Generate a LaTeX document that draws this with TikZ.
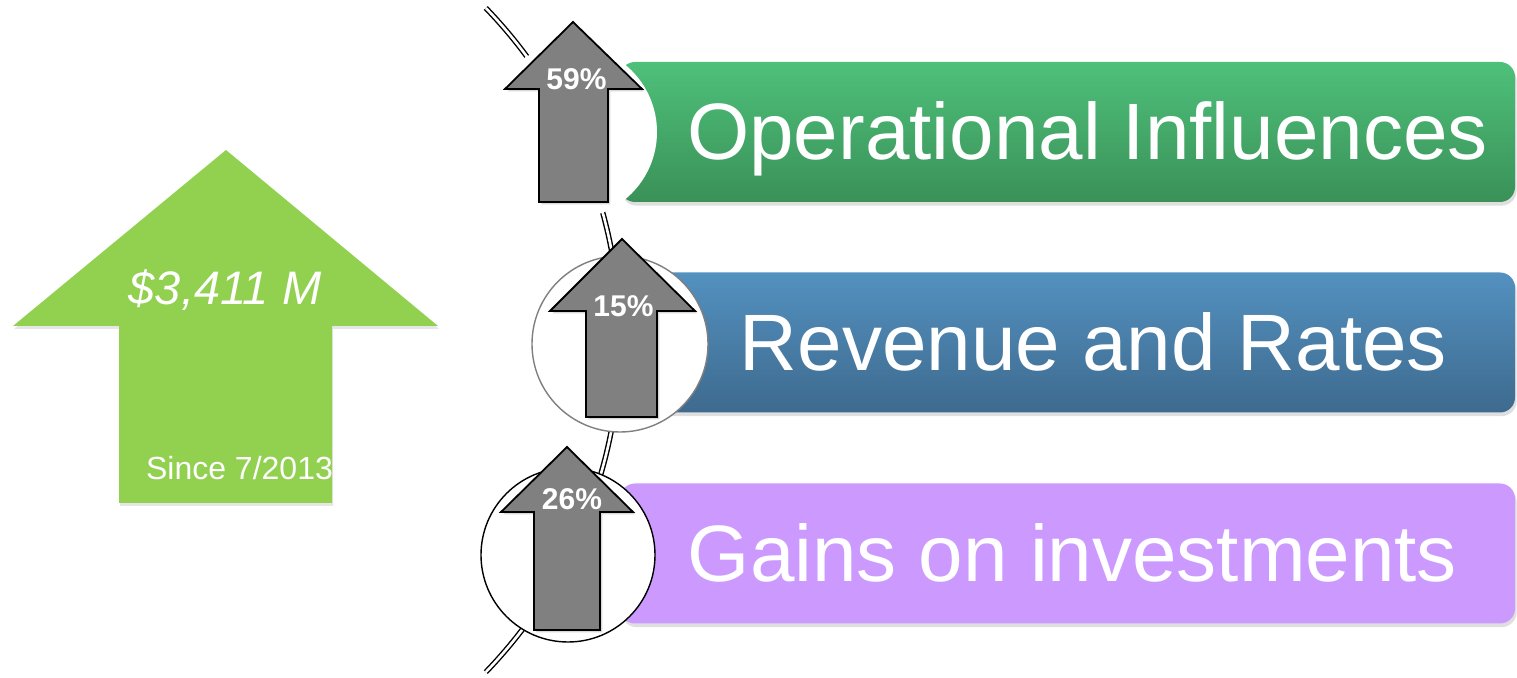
\documentclass[tikz,border=0pt]{standalone}
\usepackage{fontspec}
\setmainfont{Liberation Sans}
\usetikzlibrary{shadows}
\definecolor{biggreen}{HTML}{92D050}
\definecolor{gtop}{HTML}{4EC07A}
\definecolor{gbot}{HTML}{3A9158}
\definecolor{btop}{HTML}{5391C0}
\definecolor{bbot}{HTML}{3E6A8E}
\definecolor{purp}{HTML}{CC99FF}
\definecolor{arrgray}{HTML}{808080}
\definecolor{ringgray}{HTML}{7F7F7F}
\tikzset{
  barbox/.style={rectangle, rounded corners=7.5pt, minimum width=447.5pt, minimum height=70pt, inner sep=0pt,
    drop shadow={opacity=0.25, shadow xshift=0.8pt, shadow yshift=-1.8pt}},
  ringbox/.style={circle, inner sep=0pt, fill=white, line width=0.7pt},
  grayarrow/.style={fill=arrgray, draw=black, line width=0.9pt, line join=miter,
    drop shadow={opacity=0.3, shadow xshift=1.2pt, shadow yshift=-1.2pt}},
  bartext/.style={text=white, anchor=base, font=\fontsize{40}{48}\selectfont, inner sep=0pt},
  pcttext/.style={text=white, anchor=base, font=\bfseries\fontsize{15}{18}\selectfont, inner sep=0pt},
  arcline/.style={draw=black, double=white, line width=0.7pt, double distance=1.3pt}
}
\begin{document}
\begin{tikzpicture}[x=0.5pt,y=-0.5pt]
\useasboundingbox (0,0) rectangle (1517,678);
% big green arrow
\fill[biggreen, drop shadow={opacity=0.2, shadow xshift=0.6pt, shadow yshift=-1.5pt}]
  (226,150) -- (438,326) -- (332,326) -- (332,503) -- (119,503) -- (119,326) -- (13,326) -- cycle;
\node[text=white, anchor=base, inner sep=0pt, font=\itshape\fontsize{23.5}{28}\selectfont] (total) at (225,305) {\$3,411 M};
\node[text=white, anchor=base, inner sep=0pt, font=\fontsize{16}{19}\selectfont] (since) at (239.5,480) {Since 7/2013};
% arc
\coordinate (arcstart) at (485.8,8);
\draw[arcline] (arcstart) arc[start angle=44, end angle=-44, radius=239pt];
% bars
\node[barbox, top color=gtop, bottom color=gbot] (ops) at (1067.5,132) {};
\node[barbox, top color=btop, bottom color=bbot] (rev) at (1067.5,342.5) {};
\node[barbox, fill=purp] (gain) at (1067.5,553.5) {};
% rings
\node[ringbox, minimum size=87pt] (c1) at (570,132) {};
\node[ringbox, draw=ringgray, minimum size=88pt] (c2) at (620,344) {};
\node[ringbox, draw=black, minimum size=87pt] (c3) at (568,555) {};
% gray arrows
\path[grayarrow] (573,22) -- (642,89) -- (608,89) -- (608,202) -- (539,202) -- (539,89) -- (505,89) -- cycle;
\path[grayarrow] (622,239) -- (695,311) -- (657,311) -- (657,417) -- (586,417) -- (586,311) -- (550,311) -- cycle;
\path[grayarrow] (567,447) -- (633,512) -- (600,512) -- (600,630) -- (534,630) -- (534,512) -- (501,512) -- cycle;
\node[pcttext] (p1) at (576.5,90) {59\%};
\node[pcttext] (p2) at (623.5,317) {15\%};
\node[pcttext] (p3) at (572,510) {26\%};
% bar texts
\node[bartext] (t1) at (1087.5,160) {Operational Influences};
\node[bartext] (t2) at (1093.5,371) {Revenue and Rates};
\node[bartext] (t3) at (1072.5,582) {Gains on investments};
\end{tikzpicture}
\end{document}
